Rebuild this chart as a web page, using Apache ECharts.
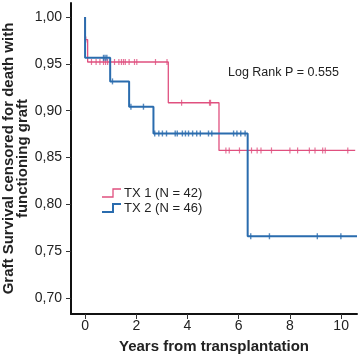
<!DOCTYPE html>
<html><head><meta charset="utf-8">
<script src="https://cdn.jsdelivr.net/npm/echarts@6/dist/echarts.min.js"></script>
<style>html,body{margin:0;padding:0;background:#fff}#c{width:358px;height:360px}</style>
</head><body><div id="c"></div>
<script>
const xTicks = [0, 2, 4, 6, 8, 10];
const yTicks = [0.70, 0.75, 0.80, 0.85, 0.90, 0.95, 1.00];
const seriesNames = ['TX 1 (N = 42)', 'TX 2 (N = 46)'];
const tx1Times = [0, 0, 0.1, 3.25, 5.23, 10.55];
const tx1Surv = [1, 0.976, 0.952, 0.9085, 0.8576, 0.8576];
const tx1Censored = [0.03, 0.25, 0.43, 0.58, 0.72, 0.8, 0.88, 1.15, 1.32, 1.42, 1.5, 1.57, 1.72, 1.93, 2.02, 2.75, 3.2,
  3.77, 4.86, 4.9,
  5.5, 5.63, 6.03, 6.5, 6.72, 6.87, 7.28, 8.0, 8.3, 8.76, 8.98, 9.28, 9.38, 10.26];
const tx2Times = [0, 0, 0.98, 1.72, 2.67, 6.35, 10.62];
const tx2Surv = [1, 0.9565, 0.9313, 0.9043, 0.8757, 0.766, 0.766];
const tx2Censored = [0.72, 0.78, 0.85, 1.07, 1.79, 2.28,
  2.72, 2.88, 3.02, 3.18, 3.52, 3.6, 3.8, 3.92, 4.04, 4.2, 4.36, 4.5, 4.82, 4.95, 5.8, 5.93, 6.08, 6.25,
  6.47, 7.2, 9.07, 9.99];
const annotation = 'Log Rank P = 0.555';
const xTitle = 'Years from transplantation';
const yTitle = 'Graft Survival censored for death with\nfunctioning graft';

const pink = '#e0507f', blue = '#2a6cae';
const FONT = 'Liberation Sans';

function survAt(times, surv, t) {
  let v = surv[0];
  for (let i = 0; i < times.length; i++) if (times[i] <= t) v = surv[i];
  return v;
}
const pair = (xs, ys) => xs.map((x, i) => [x, ys[i]]);
const cens = (ct, times, surv) => ct.map(t => [t, survAt(times, surv, t)]);

const chart = echarts.init(document.getElementById('c'), null, {renderer: 'canvas'});
chart.setOption({
  animation: false,
  backgroundColor: '#fff',
  grid: {left: 71, right: 1, top: 3, bottom: 46, containLabel: false, outerBoundsMode: 'none'},
  xAxis: {
    type: 'value', min: -0.55, max: 10.62,
    name: xTitle, nameLocation: 'middle', nameGap: 25, nameMoveOverlap: false,
    nameTextStyle: {fontFamily: FONT, fontWeight: 'bold', fontSize: 15, color: '#222'},
    axisLine: {onZero: false, lineStyle: {color: '#111', width: 2}},
    axisTick: {show: true, length: 5, customValues: xTicks, lineStyle: {color: '#333'}},
    axisLabel: {customValues: xTicks, margin: 5, fontFamily: FONT, fontSize: 14, color: '#222'},
    splitLine: {show: false}
  },
  yAxis: {
    type: 'value', min: 0.683, max: 1.015,
    name: yTitle, nameLocation: 'middle', nameGap: 41, nameRotate: 90, nameMoveOverlap: false,
    nameTextStyle: {fontFamily: FONT, fontWeight: 'bold', fontSize: 15, color: '#222', lineHeight: 14},
    axisLine: {onZero: false, lineStyle: {color: '#111', width: 2}},
    axisTick: {show: true, length: 5, customValues: yTicks, lineStyle: {color: '#333'}},
    axisLabel: {customValues: yTicks, margin: 9, fontFamily: FONT, fontSize: 14, color: '#222',
      formatter: v => v.toFixed(2).replace('.', ',')},
    splitLine: {show: false}
  },
  series: [
    {name: seriesNames[0], type: 'line', step: 'end', showSymbol: false, data: pair(tx1Times, tx1Surv),
      lineStyle: {color: pink, width: 1.3}, z: 2},
    {name: seriesNames[0] + ' censored', type: 'scatter', symbol: 'rect', symbolSize: [1.2, 6],
      data: cens(tx1Censored, tx1Times, tx1Surv), itemStyle: {color: pink}, z: 3},
    {name: seriesNames[1], type: 'line', step: 'end', showSymbol: false, data: pair(tx2Times, tx2Surv),
      lineStyle: {color: blue, width: 2}, z: 4},
    {name: seriesNames[1] + ' censored', type: 'scatter', symbol: 'rect', symbolSize: [1.4, 6],
      data: cens(tx2Censored, tx2Times, tx2Surv), itemStyle: {color: blue}, z: 5}
  ],
  graphic: [
    {type: 'text', left: 228, top: 66, style: {text: annotation, font: '12.5px ' + FONT, fill: '#222'}},
    {type: 'polyline', shape: {points: [[102, 197], [113, 197], [113, 189], [121, 189]]},
      style: {stroke: pink, lineWidth: 1.3, fill: null}},
    {type: 'text', left: 124, top: 187, style: {text: seriesNames[0], font: '13px ' + FONT, fill: '#222'}},
    {type: 'polyline', shape: {points: [[102, 212], [113, 212], [113, 204], [121, 204]]},
      style: {stroke: blue, lineWidth: 2, fill: null}},
    {type: 'text', left: 124, top: 202, style: {text: seriesNames[1], font: '13px ' + FONT, fill: '#222'}}
  ]
});
</script></body></html>
